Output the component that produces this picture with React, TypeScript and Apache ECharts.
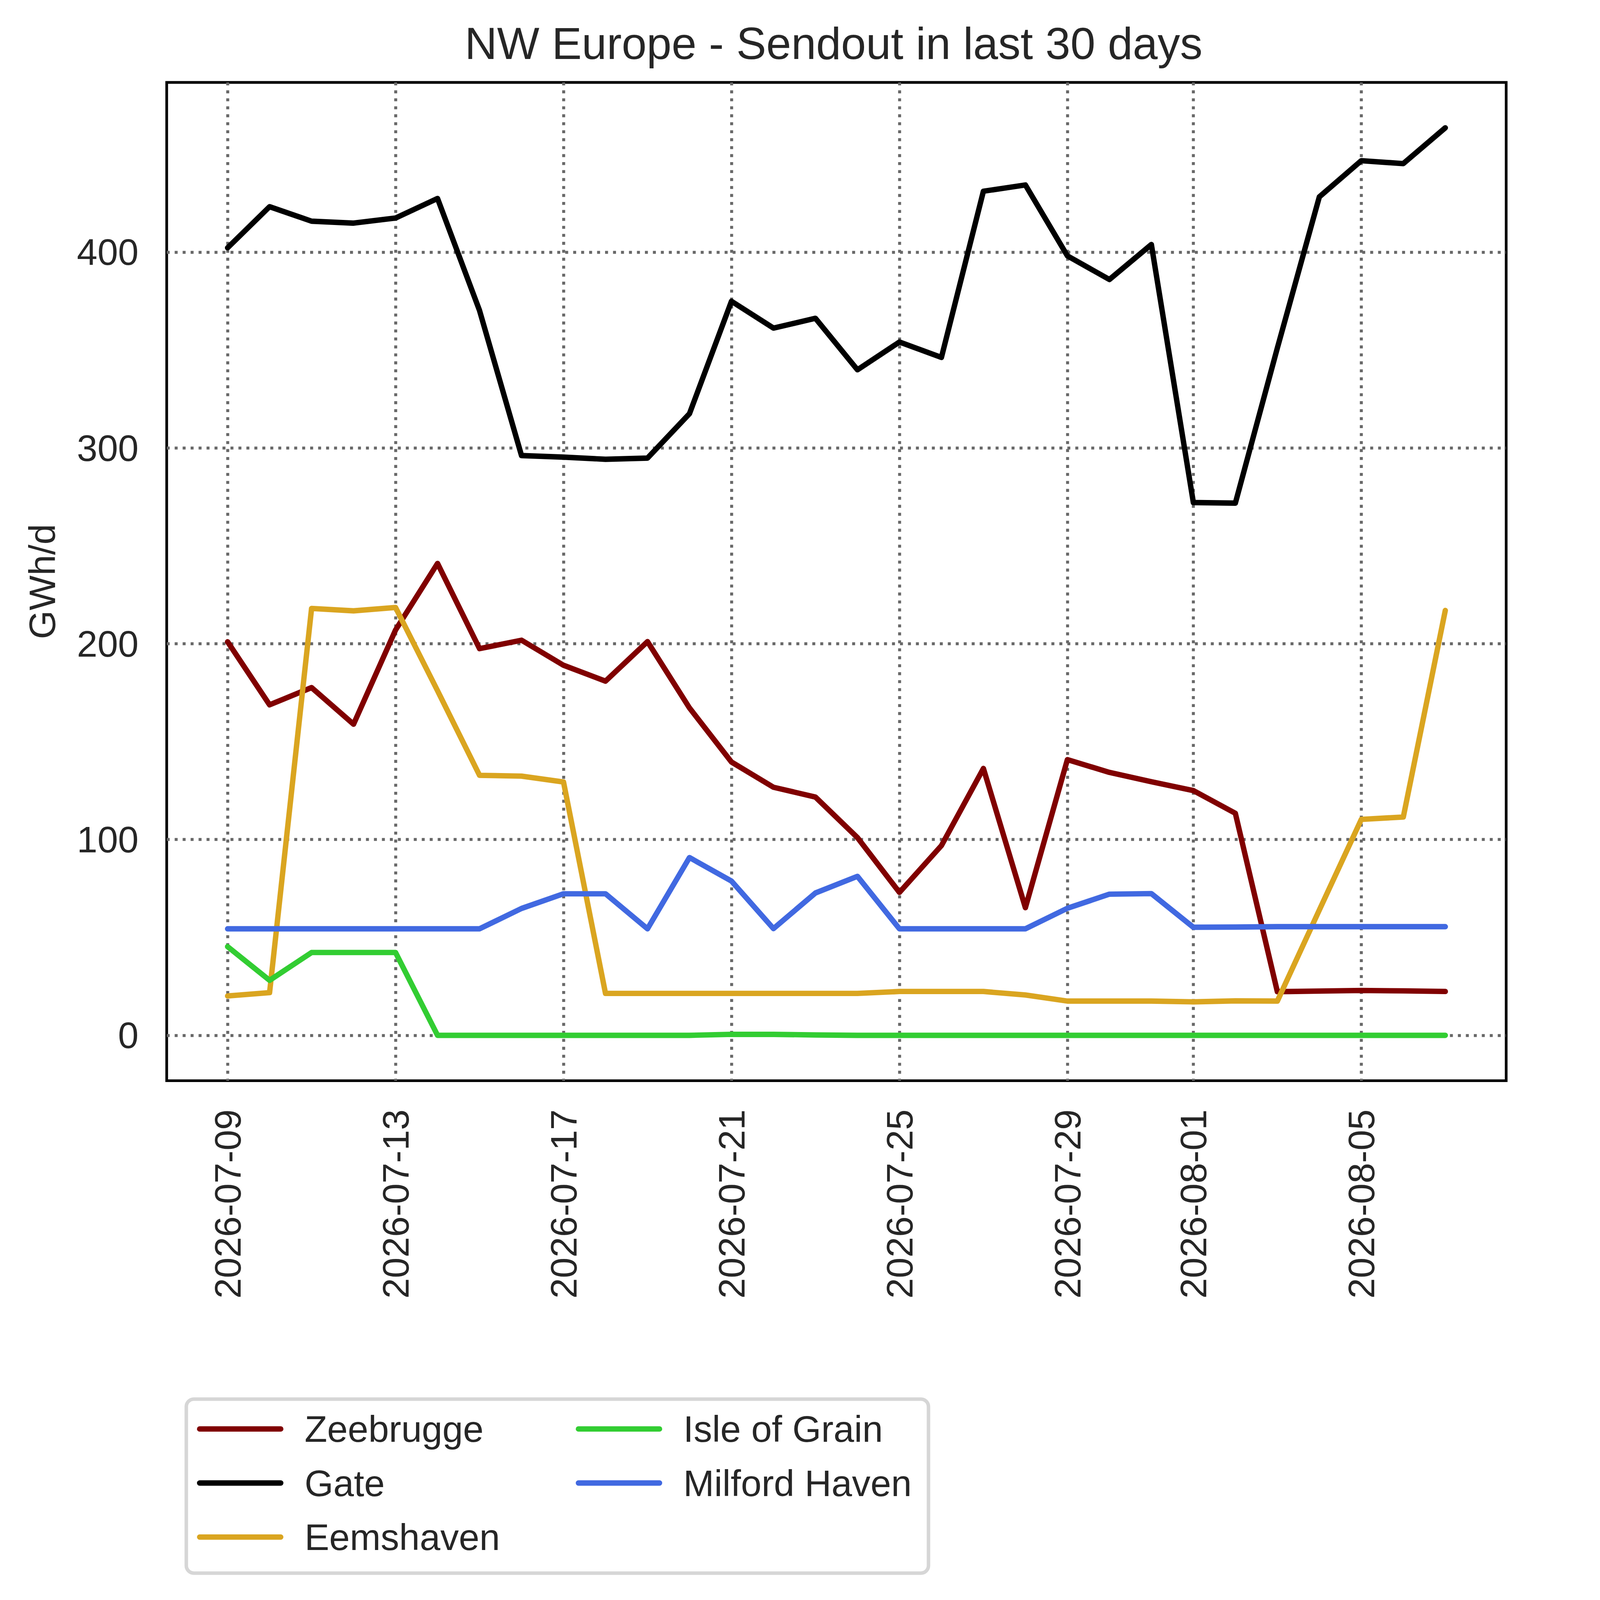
import React, { useEffect, useRef, useState } from "react";
import * as echarts from "echarts";

const dates = [
  "2026-07-09", "2026-07-10", "2026-07-11", "2026-07-12", "2026-07-13", "2026-07-14",
  "2026-07-15", "2026-07-16", "2026-07-17", "2026-07-18", "2026-07-19", "2026-07-20",
  "2026-07-21", "2026-07-22", "2026-07-23", "2026-07-24", "2026-07-25", "2026-07-26",
  "2026-07-27", "2026-07-28", "2026-07-29", "2026-07-30", "2026-07-31", "2026-08-01",
  "2026-08-02", "2026-08-03", "2026-08-04", "2026-08-05", "2026-08-06", "2026-08-07",
];

const xTickIndices = [0, 4, 8, 12, 16, 20, 23, 27];
const yTicks = [0, 100, 200, 300, 400];

const zeebrugge = [201.0, 168.8, 177.6, 158.9, 207.0, 241.0, 197.5, 201.8, 189.0, 180.9, 201.1, 167.2, 139.6, 126.7, 121.7, 101.0, 73.0, 96.9, 136.3, 65.2, 140.8, 134.3, 129.5, 125.0, 113.4, 22.3, 22.6, 22.9, 22.7, 22.4];
const gate = [402.2, 423.2, 415.8, 414.8, 417.4, 427.4, 370.2, 296.1, 295.3, 294.2, 294.8, 317.5, 374.9, 361.2, 366.2, 339.9, 354.1, 346.2, 431.1, 434.3, 398.1, 386.0, 403.9, 272.1, 271.8, 351.0, 428.2, 446.7, 445.2, 463.5];
const eemshaven = [20.1, 21.8, 218.0, 216.8, 218.5, 176.0, 132.8, 132.4, 129.4, 21.4, 21.4, 21.4, 21.4, 21.4, 21.4, 21.4, 22.4, 22.4, 22.4, 20.6, 17.5, 17.5, 17.5, 17.1, 17.6, 17.5, 64.0, 110.3, 111.5, 217.0];
const isleOfGrain = [45.3, 28.1, 42.3, 42.3, 42.3, 0, 0, 0, 0, 0, 0, 0, 0.5, 0.5, 0.2, 0, 0, 0, 0, 0, 0, 0, 0, 0, 0, 0, 0, 0, 0, 0];
const milfordHaven = [54.4, 54.4, 54.4, 54.4, 54.4, 54.4, 54.4, 64.8, 72.3, 72.3, 54.4, 90.8, 78.8, 54.5, 72.7, 81.2, 54.4, 54.4, 54.4, 54.4, 64.9, 72.1, 72.4, 55.2, 55.3, 55.5, 55.5, 55.5, 55.5, 55.5];

const seriesDefs = [
  { name: "Zeebrugge", data: zeebrugge, color: "#800000" },
  { name: "Gate", data: gate, color: "#000000" },
  { name: "Eemshaven", data: eemshaven, color: "#DAA520" },
  { name: "Isle of Grain", data: isleOfGrain, color: "#32CD32" },
  { name: "Milford Haven", data: milfordHaven, color: "#4169E1" },
];

// Design size (reference pixels)
const W = 5675;
const H = 5922;
const FONT = "'Liberation Sans', Arial, Helvetica, sans-serif";
const TEXT = "#262626";
const GRID_COLOR = "#686868";

function getScale() {
  if (typeof window === "undefined") return 1;
  const sw = window.innerWidth / W;
  const sh = window.innerHeight / H;
  const s = Math.min(sw, sh);
  return s > 0 ? s : 1;
}

export default function App() {
  const ref = useRef<HTMLDivElement>(null);
  const [s] = useState(getScale);

  useEffect(() => {
    if (!ref.current) return;
    document.body.style.margin = "0";
    document.body.style.overflow = "hidden";
    const chart = echarts.init(ref.current, undefined, { renderer: "svg" });
    const p = (v: number) => v * s;

    const n = dates.length;
    const xPad = (n - 1) * 0.05;
    let maxV = 0;
    seriesDefs.forEach((sd) => sd.data.forEach((v) => { if (v > maxV) maxV = v; }));
    const yMin = -0.05 * maxV;
    const yMax = 1.05 * maxV;

    const gridLine = {
      show: true,
      lineStyle: { color: GRID_COLOR, width: p(11), type: [p(11), p(18.5)] as any, cap: "butt" },
    };

    const legendCommon = {
      orient: "vertical",
      top: p(5219),
      padding: 0,
      itemWidth: p(300),
      itemHeight: p(20),
      itemGap: p(60),
      textStyle: {
        fontSize: p(137),
        color: TEXT,
        fontFamily: FONT,
        lineHeight: p(140),
        padding: [0, 0, 0, p(81)],
      },
      lineStyle: { width: p(20) },
    };

    const option: any = {
      animation: false,
      backgroundColor: "#ffffff",
      textStyle: { fontFamily: FONT },
      title: {
        text: "NW Europe - Sendout in last 30 days",
        left: p(1720),
        top: p(78),
        padding: 0,
        textStyle: { fontFamily: FONT, fontSize: p(166), fontWeight: "normal", color: TEXT, lineHeight: p(166) },
      },
      grid: {
        left: p(617),
        right: p(W - 5575),
        top: p(305),
        bottom: p(H - 4000),
        show: true,
        borderColor: "#000000",
        borderWidth: p(10),
        backgroundColor: "transparent",
        containLabel: false,
      },
      xAxis: {
        type: "value",
        min: -xPad,
        max: n - 1 + xPad,
        axisLine: { show: false },
        axisTick: { show: false, customValues: xTickIndices },
        axisLabel: {
          customValues: xTickIndices,
          rotate: 90,
          margin: p(106),
          fontSize: p(137),
          color: TEXT,
          fontFamily: FONT,
          formatter: (v: number) => dates[Math.round(v)] ?? "",
        },
        splitLine: gridLine,
      },
      yAxis: {
        type: "value",
        min: yMin,
        max: yMax,
        name: "GWh/d",
        nameLocation: "middle",
        nameRotate: 90,
        nameGap: p(393),
        nameTextStyle: { fontSize: p(137), color: TEXT, fontFamily: FONT, lineHeight: p(137) },
        axisLine: { show: false },
        axisTick: { show: false, customValues: yTicks },
        axisLabel: {
          customValues: yTicks,
          margin: p(104),
          fontSize: p(137),
          color: TEXT,
          fontFamily: FONT,
        },
        splitLine: gridLine,
      },
      legend: [
        { ...legendCommon, left: p(729), data: ["Zeebrugge", "Gate", "Eemshaven"] },
        { ...legendCommon, left: p(2131), data: ["Isle of Grain", "Milford Haven"] },
      ],
      graphic: [
        {
          type: "rect",
          z: -1,
          shape: { x: p(689.5), y: p(5178.5), width: p(2747), height: p(644), r: p(28) },
          style: { fill: "#ffffff", stroke: "#d6d6d6", lineWidth: p(13) },
        },
      ],
      series: seriesDefs.map((sd) => ({
        name: sd.name,
        type: "line",
        data: sd.data.map((v, i) => [i, v]),
        showSymbol: false,
        symbol: "none",
        color: sd.color,
        lineStyle: { color: sd.color, width: p(20), cap: "round", join: "round" },
        itemStyle: { color: sd.color },
        emphasis: { disabled: true },
      })),
    };

    chart.setOption(option);
    return () => chart.dispose();
  }, [s]);

  return <div ref={ref} style={{ position: "absolute", left: 0, top: 0, width: W * s, height: H * s }} />;
}
